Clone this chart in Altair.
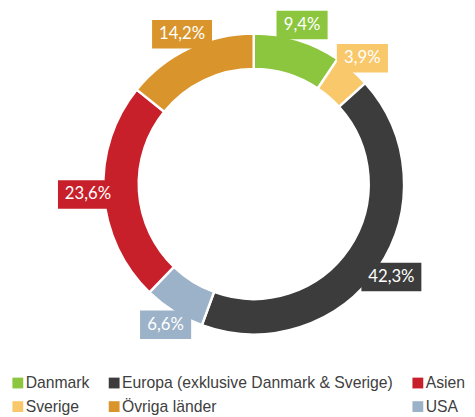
import altair as alt
import pandas as pd

# Data (slice order clockwise from top)
regions = ["Danmark", "Sverige", "Europa (exklusive Danmark & Sverige)", "USA", "Asien", "Övriga länder"]
shares = [9.4, 3.9, 42.3, 6.6, 23.6, 14.2]
labels = ["9,4%", "3,9%", "42,3%", "6,6%", "23,6%", "14,2%"]
order = [0, 1, 2, 3, 4, 5]

# Legend order (Vega fills the 3-column grid column by column)
legend_order = ["Danmark", "Sverige",
                "Europa (exklusive Danmark & Sverige)", "Övriga länder",
                "Asien", "USA"]
legend_colors = ["#8CC63F", "#F9C86A", "#3C3C3C", "#D9952B", "#C8202A", "#9BB2C8"]

df = pd.DataFrame({"region": regions, "share": shares, "label": labels, "order": order})

CX, CY = 250, 175.5
R_OUT, R_IN = 153, 117
R_LAB = 169

color = alt.Color(
    "region:N",
    scale=alt.Scale(domain=legend_order, range=legend_colors),
    legend=alt.Legend(
        title=None, orient="none", legendX=2, legendY=370, columns=3,
        symbolType="square", symbolSize=121, symbolStrokeWidth=0, symbolOpacity=1,
        labelFont="Liberation Sans", labelFontSize=16, labelColor="#404040",
        columnPadding=17, rowPadding=8, labelOffset=0, padding=0, labelLimit=400,
    ),
)

base = alt.Chart(df)

arcs = base.mark_arc(outerRadius=R_OUT, innerRadius=R_IN, stroke="white", strokeWidth=2.5).encode(
    theta=alt.Theta("share:Q", stack=True),
    order=alt.Order("order:Q"),
    color=color,
    x=alt.value(CX),
    y=alt.value(CY),
)

lab = base.transform_window(
    cum="sum(share)", sort=[alt.SortField("order")], frame=[None, 0]
).transform_joinaggregate(
    total="sum(share)"
).transform_calculate(
    ang="2*PI*(datum.cum - datum.share/2)/datum.total",
    lx=f"{CX} + {R_LAB}*sin(datum.ang)",
    ly=f"{CY} - {R_LAB}*cos(datum.ang)",
    bw="9*length(datum.label) + 16",
).transform_calculate(
    x1="datum.lx - datum.bw/2",
    x2="datum.lx + datum.bw/2",
    y1="datum.ly - 14.5",
    y2="datum.ly + 14.5",
)

boxes = lab.mark_rect().encode(
    x=alt.X("x1:Q", scale=None, axis=None),
    x2="x2:Q",
    y=alt.Y("y1:Q", scale=None, axis=None),
    y2="y2:Q",
    color=color,
)

texts = lab.mark_text(color="white", font="Lato", fontSize=17).encode(
    x=alt.X("lx:Q", scale=None, axis=None),
    y=alt.Y("ly:Q", scale=None, axis=None),
    text="label:N",
)

chart = alt.layer(arcs, boxes, texts).properties(
    width=467, height=409,
    autosize=alt.AutoSizeParams(type="none"),
    padding=0,
).configure_view(stroke=None)

chart.save("out.html", embed_options={"renderer": "svg", "actions": False})
